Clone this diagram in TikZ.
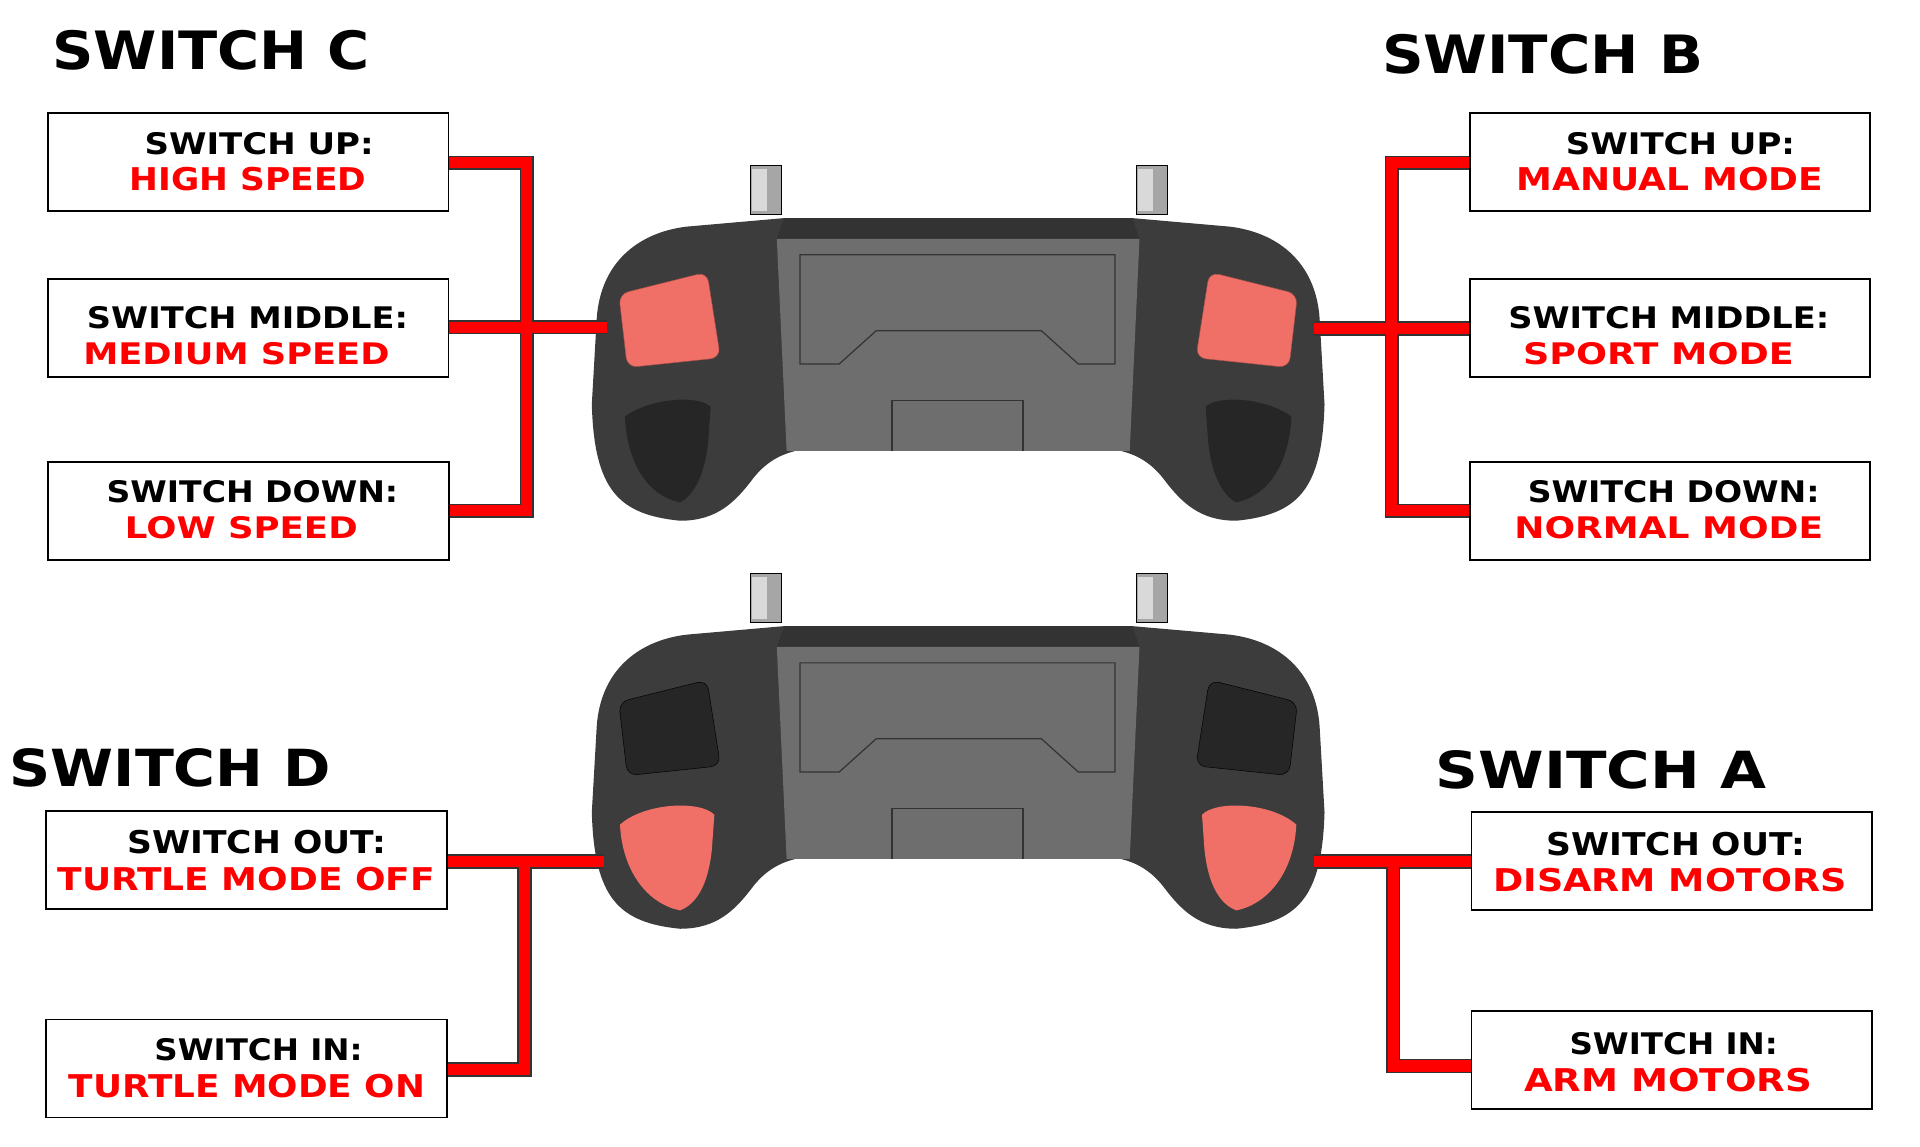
\documentclass[tikz,border=0pt]{standalone}
\usepackage{fontspec}
\setmainfont{DejaVu Sans}
\usepackage{graphicx}
\definecolor{lred}{HTML}{FF0000}
\definecolor{btn}{HTML}{F07068}
\definecolor{body}{HTML}{3C3C3C}
\definecolor{face}{HTML}{6E6E6E}
\newcommand{\fitt}[3]{\resizebox{#1pt}{#2pt}{\bfseries #3}}
\begin{document}
\begin{tikzpicture}[x=1pt,y=-1pt,
  box/.style={draw=black,line width=1.5pt,fill=white},
  wire/.style={line width=12pt,draw=black!80},
  wirein/.style={line width=9pt,draw=lred},
  lbl/.style={inner sep=0pt,anchor=center}]
\useasboundingbox (0,0) rectangle (1567,936);
% controllers
\foreach \dy/\top in {0/1,333/0}{
\begin{scope}[yshift=-\dy pt]
 \fill[gray!70,draw=black] (612,135) rectangle (638,175);
 \fill[gray!70,draw=black] (927,135) rectangle (953,175);
 \fill[gray!30] (614,138) rectangle (626,172);
 \fill[gray!30] (929,138) rectangle (941,172);
 \fill[body] (640,178) -- (560,185) .. controls (520,190) and (490,215) .. (487,260) -- (483,330) .. controls (485,400) and (505,420) .. (555,425) .. controls (585,425) and (600,410) .. (615,390) .. controls (635,365) and (660,365) .. (690,365) -- (874,365) .. controls (904,365) and (929,365) .. (949,390) .. controls (964,410) and (979,425) .. (1009,425) .. controls (1059,420) and (1079,400) .. (1081,330) -- (1077,260) .. controls (1074,215) and (1044,190) .. (1004,185) -- (924,178) -- cycle;
 \fill[black!80] (640,178) -- (924,178) -- (930,195) -- (634,195) -- cycle;
 \fill[face] (634,195) -- (930,195) -- (922,368) -- (642,368) -- cycle;
 \draw[black!80,line width=1pt] (653,208) -- (910,208) -- (910,297) -- (880,297) -- (850,270) -- (715,270) -- (685,297) -- (653,297) -- cycle;
 \draw[black!80,line width=1pt] (728,368) -- (728,327) -- (835,327) -- (835,368);
 \ifnum\top=1
  \fill[btn,draw=btn!70!black,rounded corners=8pt] (505,240) -- (577,222) -- (588,292) -- (512,300) -- cycle;
  \fill[btn,draw=btn!70!black,rounded corners=8pt] (1059,240) -- (987,222) -- (976,292) -- (1052,300) -- cycle;
  \fill[black!85] (510,340) .. controls (530,325) and (570,322) .. (580,332) -- (578,360) .. controls (575,390) and (565,405) .. (555,410) .. controls (530,405) and (512,380) .. (510,340);
  \fill[black!85] (1054,340) .. controls (1034,325) and (994,322) .. (984,332) -- (986,360) .. controls (989,390) and (999,405) .. (1009,410) .. controls (1034,405) and (1052,380) .. (1054,340);
 \else
  \fill[black!85,draw=black,rounded corners=8pt] (505,240) -- (577,222) -- (588,292) -- (512,300) -- cycle;
  \fill[black!85,draw=black,rounded corners=8pt] (1059,240) -- (987,222) -- (976,292) -- (1052,300) -- cycle;
  \fill[btn] (506,340) .. controls (526,322) and (572,320) .. (583,332) -- (581,360) .. controls (578,390) and (568,405) .. (555,410) .. controls (530,405) and (508,380) .. (506,340);
  \fill[btn] (1058,340) .. controls (1038,322) and (992,320) .. (981,332) -- (983,360) .. controls (986,390) and (996,405) .. (1009,410) .. controls (1034,405) and (1056,380) .. (1058,340);
 \fi
\end{scope}}
% titles
\node[lbl] (tC) at (172.5,41) {\fitt{259}{32}{SWITCH C}};
\node[lbl] (tB) at (1259,44) {\fitt{262}{32}{SWITCH B}};
\node[lbl] (tD) at (139,627) {\fitt{262}{31}{SWITCH D}};
\node[lbl] (tA) at (1307,628) {\fitt{270}{31}{SWITCH A}};
% junction coordinates
\coordinate (jc1) at (430,133); \coordinate (jc2) at (430,267); \coordinate (jc3) at (430,417); \coordinate (cc) at (495,267);
\coordinate (jb1) at (1136,133); \coordinate (jb2) at (1136,268); \coordinate (jb3) at (1136,417); \coordinate (cb) at (1072,268);
\coordinate (jd1) at (428,703); \coordinate (jd2) at (428,873); \coordinate (cd) at (493,703);
\coordinate (ja1) at (1137,703); \coordinate (ja2) at (1137,870); \coordinate (ca) at (1072,703);
\foreach \s in {wire,wirein}{
 \draw[\s] (366,133) -- (jc1) -- (jc3) -- (366,417); \draw[\s] (366,267) -- (cc);
 \draw[\s] (1200,133) -- (jb1) -- (jb3) -- (1200,417); \draw[\s] (1200,268) -- (cb);
 \draw[\s] (364,703) -- (jd1) -- (jd2) -- (364,873); \draw[\s] (cd) -- (jd1);
 \draw[\s] (1201,703) -- (ca); \draw[\s] (ja1) -- (ja2) -- (1201,870);
}
% boxes
\node[box,minimum width=327pt,minimum height=80pt] (c1) at (202.5,132) {};
\node[box,minimum width=327pt,minimum height=80pt] (c2) at (202.5,268) {};
\node[box,minimum width=327pt,minimum height=80pt] (c3) at (203,417) {};
\node[box,minimum width=327pt,minimum height=80pt] (b1) at (1363,132) {};
\node[box,minimum width=327pt,minimum height=80pt] (b2) at (1363,268) {};
\node[box,minimum width=327pt,minimum height=80pt] (b3) at (1363,417) {};
\node[box,minimum width=327pt,minimum height=80pt] (d1) at (201,702) {};
\node[box,minimum width=327pt,minimum height=80pt] (d2) at (201,872) {};
\node[box,minimum width=327pt,minimum height=80pt] (a1) at (1364.5,703) {};
\node[box,minimum width=327pt,minimum height=80pt] (a2) at (1364.5,865) {};
% labels
\node[lbl] at (211.5,117) {\fitt{187}{18}{SWITCH UP:}};
\node[lbl,text=lred] at (202.5,146.5) {\fitt{193}{19}{HIGH SPEED}};
\node[lbl] at (202,259) {\fitt{262}{18}{SWITCH MIDDLE:}};
\node[lbl,text=lred] at (193,289) {\fitt{250}{18}{MEDIUM SPEED}};
\node[lbl] at (206,401) {\fitt{238}{18}{SWITCH DOWN:}};
\node[lbl,text=lred] at (197,431) {\fitt{190}{18}{LOW SPEED}};
\node[lbl] at (1371.5,117) {\fitt{187}{18}{SWITCH UP:}};
\node[lbl,text=lred] at (1363,146.5) {\fitt{250}{19}{MANUAL MODE}};
\node[lbl] at (1362,259) {\fitt{262}{18}{SWITCH MIDDLE:}};
\node[lbl,text=lred] at (1353.5,289) {\fitt{221}{18}{SPORT MODE}};
\node[lbl] at (1366,401) {\fitt{238}{18}{SWITCH DOWN:}};
\node[lbl,text=lred] at (1362,431) {\fitt{252}{18}{NORMAL MODE}};
\node[lbl] at (209.5,687.5) {\fitt{211}{19}{SWITCH OUT:}};
\node[lbl,text=lred] at (201,717.5) {\fitt{308}{19}{TURTLE MODE OFF}};
\node[lbl] at (211,857) {\fitt{170}{18}{SWITCH IN:}};
\node[lbl,text=lred] at (201.5,886.5) {\fitt{291}{19}{TURTLE MODE ON}};
\node[lbl] at (1367.5,688.5) {\fitt{211}{19}{SWITCH OUT:}};
\node[lbl,text=lred] at (1363,718.5) {\fitt{288}{19}{DISARM MOTORS}};
\node[lbl] at (1366,852) {\fitt{170}{18}{SWITCH IN:}};
\node[lbl,text=lred] at (1361.5,881.5) {\fitt{235}{19}{ARM MOTORS}};
\end{tikzpicture}
\end{document}
